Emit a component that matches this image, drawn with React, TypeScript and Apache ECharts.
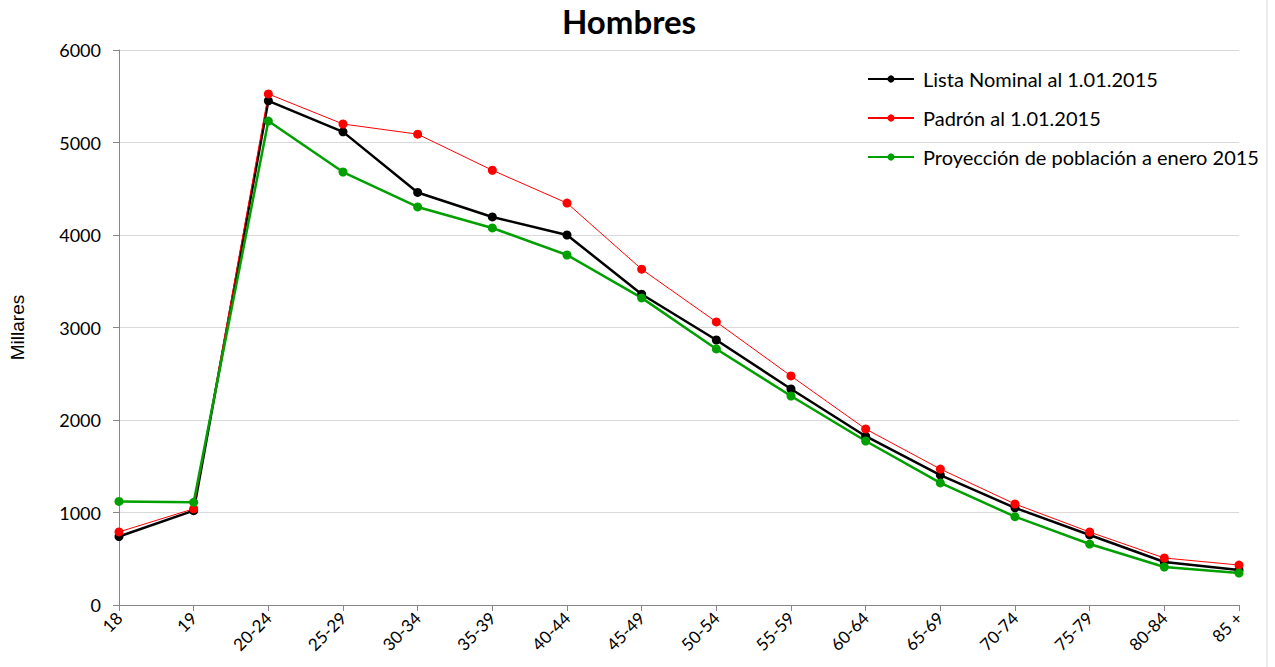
import React, { useEffect, useRef } from "react";
import * as echarts from "echarts";

const categories = ["18", "19", "20-24", "25-29", "30-34", "35-39", "40-44", "45-49", "50-54", "55-59", "60-64", "65-69", "70-74", "75-79", "80-84", "85 +"];
const listaNominal = [740, 1020, 5450, 5115, 4460, 4195, 4000, 3360, 2865, 2335, 1825, 1405, 1050, 757, 465, 378];
const padron = [790, 1040, 5525, 5200, 5090, 4700, 4345, 3630, 3060, 2476, 1903, 1470, 1092, 789, 508, 432];
const proyeccion = [1120, 1110, 5232, 4681, 4303, 4076, 3784, 3320, 2768, 2259, 1773, 1320, 955, 659, 411, 346];
const seriesNames = ["Lista Nominal al 1.01.2015", "Padrón al 1.01.2015", "Proyección de población a enero 2015"];

const FONT = "Lato, 'Open Sans', sans-serif";

export default function App() {
  const ref = useRef<HTMLDivElement>(null);
  useEffect(() => {
    document.body.style.margin = "0";
    const chart = echarts.init(ref.current!, null, { renderer: "svg" });
    const mk = (name: string, data: number[], color: string, width: number) => ({
      name,
      type: "line",
      data,
      symbol: "circle",
      symbolSize: 9,
      itemStyle: { color },
      lineStyle: { color, width },
      emphasis: { disabled: true },
    });
    chart.setOption({
      animation: false,
      backgroundColor: "#ffffff",
      textStyle: { fontFamily: FONT },
      title: {
        text: "Hombres",
        left: 624,
        textAlign: "center",
        top: -1,
        textStyle: { fontSize: 33, fontWeight: "bold", color: "#000", fontFamily: FONT },
      },
      legend: {
        orient: "vertical",
        left: 862,
        top: 63,
        itemGap: 17,
        itemWidth: 46,
        itemHeight: 9,
        textStyle: { fontSize: 20, lineHeight: 22, color: "#000", fontFamily: FONT, padding: [0, 0, 0, 4] },
        data: seriesNames,
      },
      grid: { left: 118, right: 36, top: 50, bottom: 62 },
      xAxis: {
        type: "category",
        data: categories,
        boundaryGap: false,
        axisLine: { lineStyle: { color: "#868686", width: 1 } },
        axisTick: { alignWithLabel: true, length: 6, lineStyle: { color: "#868686" } },
        axisLabel: { rotate: 45, fontSize: 17, color: "#000", margin: 10, fontFamily: FONT },
      },
      yAxis: {
        type: "value",
        min: 0,
        max: 6000,
        interval: 1000,
        name: "Millares",
        nameLocation: "middle",
        nameGap: 92,
        nameTextStyle: { fontSize: 19, color: "#000", fontFamily: "'Liberation Sans', Arial, sans-serif" },
        axisLine: { show: true, lineStyle: { color: "#868686" } },
        axisTick: { show: true, length: 6, lineStyle: { color: "#868686" } },
        axisLabel: { fontSize: 18, color: "#000", margin: 18, fontFamily: FONT, formatter: (v: number) => String(v) },
        splitLine: { lineStyle: { color: "#d9d9d9", width: 1 } },
      },
      graphic: [
        { type: "line", shape: { x1: 1267, y1: 0, x2: 1267, y2: 667 }, style: { stroke: "#d9d9d9", lineWidth: 1 } },
      ],
      series: [
        mk(seriesNames[0], listaNominal, "#000000", 2.5),
        mk(seriesNames[1], padron, "#ff0000", 1),
        mk(seriesNames[2], proyeccion, "#00a000", 2.5),
      ],
    });
    return () => chart.dispose();
  }, []);
  return <div ref={ref} style={{ width: 1275, height: 667 }} />;
}
